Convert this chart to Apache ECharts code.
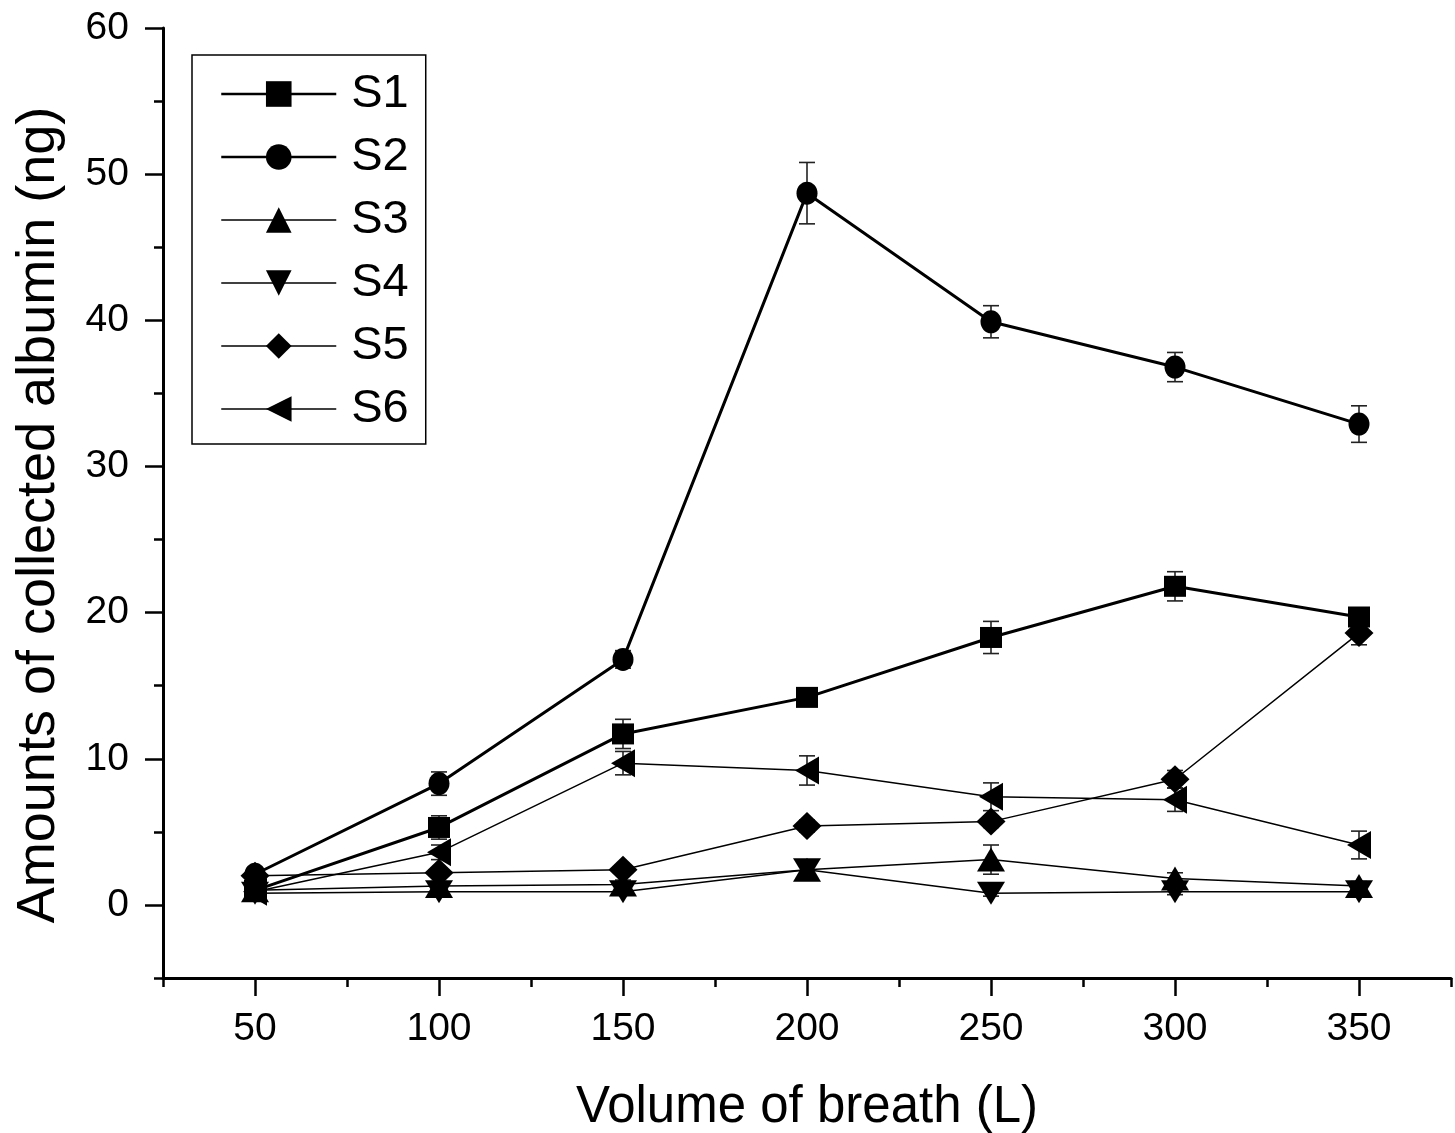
<!DOCTYPE html>
<html>
<head>
<meta charset="utf-8">
<script src="https://cdn.jsdelivr.net/npm/echarts@6/dist/echarts.min.js"></script>
<style>
html,body{margin:0;padding:0;background:#fff;}
#chart{width:1455px;height:1133px;}
</style>
</head>
<body>
<div id="chart"></div>
<script>
// ---- data ----
const xValues = [50, 100, 150, 200, 250, 300, 350];
const s1 = [1.0, 5.3, 11.7, 14.2, 18.3, 21.8, 19.7];
const s1Err = [0.3, 0.8, 1.0, 0.5, 1.1, 1.0, 0.6];
const s2 = [2.1, 8.3, 16.8, 48.7, 39.9, 36.8, 32.9];
const s2Err = [0.3, 0.8, 0.6, 2.1, 1.1, 1.0, 1.25];
const s3 = [1.0, 1.3, 1.4, 2.4, 3.1, 1.8, 1.3];
const s3Err = [0.2, 0.3, 0.3, 0.4, 1.0, 0.4, 0.3];
const s4 = [0.8, 0.9, 0.9, 2.4, 0.8, 0.9, 0.9];
const s4Err = [0.2, 0.2, 0.2, 0.3, 0.2, 0.2, 0.2];
const s5 = [2.0, 2.2, 2.4, 5.4, 5.7, 8.6, 18.6];
const s5Err = [0.3, 0.3, 0.3, 0.4, 0.4, 0.6, 0.8];
const s6 = [0.9, 3.6, 9.7, 9.2, 7.4, 7.2, 4.1];
const s6Err = [0.2, 0.5, 0.8, 1.0, 0.95, 0.8, 0.95];
const seriesNames = ['S1', 'S2', 'S3', 'S4', 'S5', 'S6'];
const xMajorTicks = [50, 100, 150, 200, 250, 300, 350];
const xMinorTicks = [25, 75, 125, 175, 225, 275, 325, 375];
const yMajorTicks = [0, 10, 20, 30, 40, 50, 60];
const yMinorTicks = [-5, 5, 15, 25, 35, 45, 55];

const FONT = '"Liberation Sans", Arial, sans-serif';

function pts(vals) { return xValues.map((x, i) => [x, vals[i]]); }

function errSeries(vals, errs) {
  return {
    type: 'custom',
    silent: true,
    z: 3,
    data: xValues.map((x, i) => [x, vals[i] - errs[i], vals[i] + errs[i]]),
    encode: { x: 0, y: [1, 2] },
    renderItem: function (params, api) {
      const x = api.value(0);
      const lo = api.coord([x, api.value(1)]);
      const hi = api.coord([x, api.value(2)]);
      const hw = 8;
      const st = { stroke: '#222', lineWidth: 1.6 };
      return {
        type: 'group',
        children: [
          { type: 'line', shape: { x1: lo[0], y1: lo[1], x2: hi[0], y2: hi[1] }, style: st },
          { type: 'line', shape: { x1: lo[0] - hw, y1: lo[1], x2: lo[0] + hw, y2: lo[1] }, style: st },
          { type: 'line', shape: { x1: hi[0] - hw, y1: hi[1], x2: hi[0] + hw, y2: hi[1] }, style: st }
        ]
      };
    }
  };
}

function lineSeries(name, vals, symbol, size, rotate, width) {
  return {
    name: name,
    type: 'line',
    data: pts(vals),
    symbol: symbol,
    symbolSize: size,
    symbolRotate: rotate,
    showAllSymbol: true,
    z: 4,
    itemStyle: { color: '#000', borderWidth: 0 },
    lineStyle: { color: '#000', width: width },
    emphasis: { disabled: true },
    animation: false
  };
}

const legendLineWidths = [2.5, 2.5, 1.5, 1.5, 1.5, 1.5];

const chart = echarts.init(document.getElementById('chart'), null, { renderer: 'canvas' });

const option = {
  animation: false,
  backgroundColor: '#fff',
  grid: { left: 163, right: 4, top: 28, bottom: 155, containLabel: false, outerBoundsMode: 'none' },
  legend: {
    orient: 'vertical',
    left: 192,
    top: 55,
    data: seriesNames.map((n, i) => ({ name: n, lineStyle: { width: legendLineWidths[i], color: '#000' } })),
    padding: [14, 17, 10, 28],
    borderColor: '#000',
    borderWidth: 1.5,
    itemWidth: 115,
    itemHeight: 32,
    itemGap: 13,
    textStyle: { fontFamily: FONT, fontSize: 47, color: '#000', lineHeight: 50, padding: [0, 0, 0, 10] },
    selectedMode: false
  },
  xAxis: [
    {
      type: 'value', min: 25, max: 375, interval: 25,
      name: 'Volume of breath (L)', nameLocation: 'middle', nameGap: 104,
      nameTextStyle: { fontFamily: FONT, fontSize: 51, color: '#000' },
      splitLine: { show: false },
      axisLine: { show: true, onZero: false, lineStyle: { color: '#000', width: 3 } },
      axisTick: { show: true, inside: false, length: 18, customValues: xMajorTicks, lineStyle: { color: '#000', width: 2.5 } },
      axisLabel: { customValues: xMajorTicks, margin: 32, fontFamily: FONT, fontSize: 39, color: '#000' }
    },
    {
      type: 'value', min: 25, max: 375, interval: 25, position: 'bottom', offset: 0,
      splitLine: { show: false },
      axisLine: { show: false, onZero: false },
      axisTick: { show: true, inside: false, length: 9, customValues: xMinorTicks, lineStyle: { color: '#000', width: 2.5 } },
      axisLabel: { show: false }
    }
  ],
  yAxis: [
    {
      type: 'value', min: -5, max: 60, interval: 5,
      name: 'Amounts of collected albumin (ng)', nameLocation: 'middle', nameGap: 97, nameRotate: 90,
      nameTextStyle: { fontFamily: FONT, fontSize: 54, color: '#000', padding: [0, 24, 0, 0] },
      splitLine: { show: false },
      axisLine: { show: true, onZero: false, lineStyle: { color: '#000', width: 3 } },
      axisTick: { show: true, inside: false, length: 18, customValues: yMajorTicks, lineStyle: { color: '#000', width: 2.5 } },
      axisLabel: { customValues: yMajorTicks, margin: 34, fontFamily: FONT, fontSize: 39, color: '#000' }
    },
    {
      type: 'value', min: -5, max: 60, interval: 5, position: 'left', offset: 0,
      splitLine: { show: false },
      axisLine: { show: false, onZero: false },
      axisTick: { show: true, inside: false, length: 9, customValues: yMinorTicks, lineStyle: { color: '#000', width: 2.5 } },
      axisLabel: { show: false }
    }
  ],
  series: [
    errSeries(s1, s1Err),
    errSeries(s2, s2Err),
    errSeries(s3, s3Err),
    errSeries(s4, s4Err),
    errSeries(s5, s5Err),
    errSeries(s6, s6Err),
    lineSeries('S1', s1, 'rect', [22, 21], 0, 3),
    lineSeries('S2', s2, 'circle', [21, 23], 0, 3),
    lineSeries('S3', s3, 'triangle', [28, 24], 0, 1.5),
    lineSeries('S4', s4, 'triangle', [28, 23], 180, 1.5),
    lineSeries('S5', s5, 'diamond', [29, 28], 0, 1.5),
    lineSeries('S6', s6, 'triangle', [28, 24], 90, 1.5)
  ]
};
chart.setOption(option);
</script>
</body>
</html>
